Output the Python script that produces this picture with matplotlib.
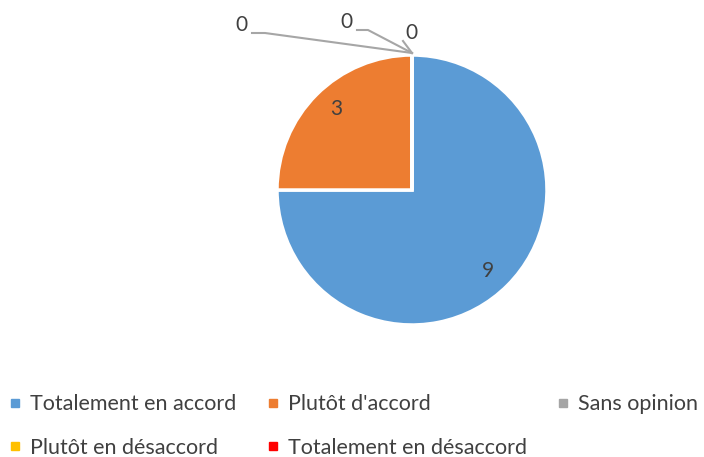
import matplotlib
matplotlib.use("Agg")
import matplotlib.pyplot as plt
import numpy as np
from matplotlib.lines import Line2D

categories = ["Totalement en accord", "Plutôt d'accord", "Sans opinion",
              "Plutôt en désaccord", "Totalement en désaccord"]
values = [9, 3, 0, 0, 0]
colors = ["#5B9BD5", "#ED7D31", "#A5A5A5", "#FFC000", "#FF0000"]

plt.rcParams['font.family'] = ['Lato', 'DejaVu Sans']
TXT = "#404040"

W, H = 704, 457
fig = plt.figure(figsize=(W / 100, H / 100), dpi=100)
ax = fig.add_axes([0, 0, 1, 1])

cx, cy, R = 412, H - 190, 135
wedges, _ = ax.pie(values, colors=colors, startangle=90, counterclock=False,
                   center=(cx, cy), radius=R,
                   wedgeprops=dict(edgecolor='white', linewidth=2.5), frame=True)
ax.set_xlim(0, W)
ax.set_ylim(0, H)
ax.set_aspect('equal')
ax.axis('off')

# labels for non-zero slices
for w, v in zip(wedges, values):
    if v > 0:
        ang = np.deg2rad((w.theta1 + w.theta2) / 2 - 2)
        ax.text(cx + 0.82 * R * np.cos(ang), cy + 0.82 * R * np.sin(ang), str(v),
                ha='center', va='center', fontsize=15, color=TXT)

# labels for zero slices with leader lines (pixel positions from top-left)
tip = (412, H - 53)
lead = "#A6A6A6"
ax.text(241, H - 25, "0", ha='center', va='center', fontsize=15, color=TXT)
ax.plot([252, 265, tip[0]], [H - 33, H - 33, tip[1]], color=lead, lw=1.5)
ax.text(346, H - 22, "0", ha='center', va='center', fontsize=15, color=TXT)
ax.plot([357, 368, tip[0]], [H - 30, H - 30, tip[1]], color=lead, lw=1.5)
ax.text(411, H - 33, "0", ha='center', va='center', fontsize=15, color=TXT)
ax.plot([403, tip[0]], [H - 41, tip[1]], color=lead, lw=1.5)

order = [0, 3, 1, 4, 2]
handles = [Line2D([], [], marker='s', linestyle='none', markersize=6,
                  markerfacecolor=colors[i], markeredgecolor=colors[i]) for i in order]
labels = [categories[i] for i in order]
leg = fig.legend(handles, labels, loc='upper left', bbox_to_anchor=(-0.0005, 0.156),
                 ncol=3, frameon=False, fontsize=15.5, labelcolor=TXT,
                 handlelength=0.6, handletextpad=0.4, columnspacing=1.4,
                 labelspacing=1.08, borderaxespad=0)

fig.savefig("out.png", dpi=100)
